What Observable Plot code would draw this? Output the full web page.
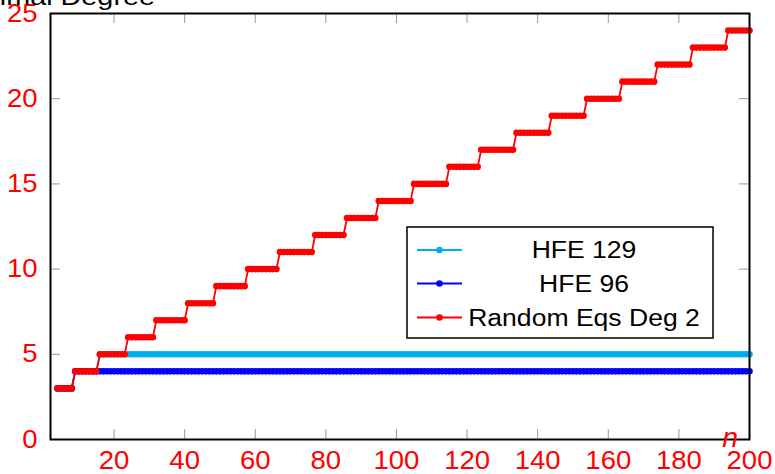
<!DOCTYPE html>
<html><head><meta charset="utf-8">
<script src="https://cdn.jsdelivr.net/npm/d3@7"></script>
<script src="https://cdn.jsdelivr.net/npm/@observablehq/plot@0.6"></script>
<style>
html,body{margin:0;padding:0;background:#fff;}
#chart{position:relative;width:775px;height:474px;overflow:hidden;}
</style></head><body><div id="chart"></div>
<script>
// ---- data ----
const xLabel = "n";
const yLabel = "Maximal Degree";
const seriesNames = ["HFE 129", "HFE 96", "Random Eqs Deg 2"];
const seriesColors = ["#00AEEF", "#0000FF", "#FF0000"];
const xTicks = [20, 40, 60, 80, 100, 120, 140, 160, 180, 200];
const yTicks = [0, 5, 10, 15, 20, 25];
const nFirst = 4;
const nLast = 200;
// first n at which each degree level of the random system is reached
const randomStepStart  = [4, 9, 16, 24, 32, 41, 49, 58, 67, 77, 86, 95, 105, 115, 124, 134, 144, 154, 164, 174, 184, 194];
const randomStepDegree = [3, 4, 5, 6, 7, 8, 9, 10, 11, 12, 13, 14, 15, 16, 17, 18, 19, 20, 21, 22, 23, 24];
// HFE systems follow the random curve until they saturate at these degrees
const hfeCaps = [5, 4];

// ---- table ----
const nValues = d3.range(nFirst, nLast + 1);
const randomDeg = nValues.map(n => randomStepDegree[d3.bisectRight(randomStepStart, n) - 1]);
const rows = [];
seriesNames.forEach((name, si) => nValues.forEach((n, i) => rows.push({
  series: name, n, deg: si < hfeCaps.length ? Math.min(randomDeg[i], hfeCaps[si]) : randomDeg[i]
})));

// ---- layout ----
const W = 775, H = 474, mL = 50, mR = 26, mT = 13, mB = 35;
const pw = W - mL - mR, ph = H - mT - mB;
const tickLen = 10;
const FONT = "'Liberation Sans', Arial, Helvetica, sans-serif";
const TICK_FS = 25, TICK_SX = 1.1;

const seriesMarks = seriesNames.flatMap(name => {
  const d = rows.filter(r => r.series === name);
  return [
    Plot.line(d, {x: "n", y: "deg", stroke: "series", strokeWidth: 1.8}),
    Plot.dot(d, {x: "n", y: "deg", fill: "series", r: 3.3})
  ];
});

const svg = Plot.plot({
  width: W, height: H,
  marginLeft: mL, marginRight: mR, marginTop: mT, marginBottom: mB,
  style: {fontFamily: FONT, background: "white", overflow: "visible"},
  x: {domain: [2, 200]},
  y: {domain: [0, 25]},
  color: {domain: seriesNames, range: seriesColors},
  marks: [
    Plot.ruleX(xTicks, {stroke: "#999", strokeWidth: 1, insetTop: ph - tickLen}),
    Plot.ruleX(xTicks, {stroke: "#999", strokeWidth: 1, insetBottom: ph - tickLen}),
    Plot.ruleY(yTicks, {stroke: "#999", strokeWidth: 1, insetRight: pw - tickLen}),
    Plot.ruleY(yTicks, {stroke: "#999", strokeWidth: 1, insetLeft: pw - tickLen}),
    Plot.axisX({ticks: xTicks, tickSize: 0, tickPadding: 12, fontSize: TICK_FS, fill: "red", label: null}),
    Plot.axisY({ticks: yTicks, tickSize: 0, tickPadding: 13, fontSize: TICK_FS, fill: "red", label: null}),
    ...seriesMarks,
    Plot.frame({stroke: "black", strokeWidth: 2})
  ]
});

// widen tick-label glyphs horizontally (reference font is stretched)
svg.querySelectorAll("text").forEach(t => {
  const tr = t.getAttribute("transform") || "";
  t.setAttribute("transform", tr + ` scale(${TICK_SX},1)`);
});

const s = d3.select(svg);
// y label (mostly cut off at the top)
s.append("text").attr("transform", "translate(155,5) scale(1.2,1)")
  .attr("text-anchor", "end").attr("font-family", FONT).attr("font-size", 24)
  .attr("fill", "black").text(yLabel);
// x label
s.append("text").attr("transform", "translate(730,447) scale(1.05,1)")
  .attr("text-anchor", "middle").attr("font-family", FONT).attr("font-size", 27)
  .attr("font-style", "italic").attr("fill", "red").text(xLabel);

// legend
const lg = s.append("g");
lg.append("rect").attr("x", 407).attr("y", 227).attr("width", 306).attr("height", 111)
  .attr("fill", "white").attr("stroke", "black").attr("stroke-width", 1.5);
const rowY = [250, 283.5, 317.5];
seriesNames.forEach((name, i) => {
  const y = rowY[i];
  lg.append("line").attr("x1", 417).attr("x2", 462).attr("y1", y).attr("y2", y)
    .attr("stroke", seriesColors[i]).attr("stroke-width", 2);
  lg.append("circle").attr("cx", 439.5).attr("cy", y).attr("r", 3.3).attr("fill", seriesColors[i]);
  lg.append("text").attr("transform", `translate(584,${y + 8.3}) scale(1.13,1)`)
    .attr("text-anchor", "middle").attr("font-family", FONT).attr("font-size", 23.5)
    .attr("fill", "black").text(name);
});

document.getElementById("chart").appendChild(svg);
</script>
</body></html>
